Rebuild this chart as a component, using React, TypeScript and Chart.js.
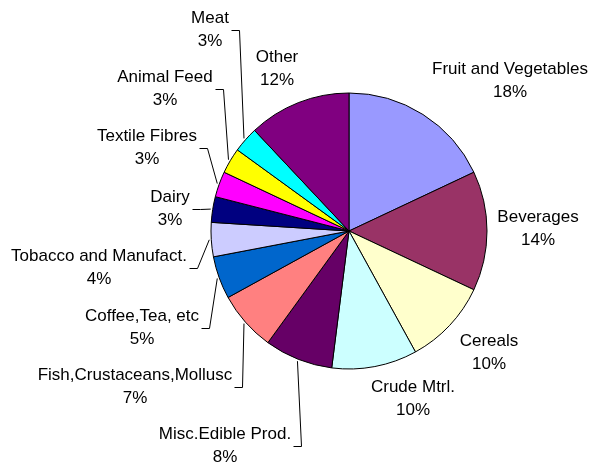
import React, { useEffect, useRef } from "react";
import { Chart, registerables } from "chart.js";

Chart.register(...registerables);

const categories = [
  "Fruit and Vegetables",
  "Beverages",
  "Cereals",
  "Crude Mtrl.",
  "Misc.Edible Prod.",
  "Fish,Crustaceans,Mollusc",
  "Coffee,Tea, etc",
  "Tobacco and Manufact.",
  "Dairy",
  "Textile Fibres",
  "Animal Feed",
  "Meat",
  "Other",
];
const shares = [18, 14, 10, 10, 8, 7, 5, 4, 3, 3, 3, 3, 12];
const percentLabels = ["18%", "14%", "10%", "10%", "8%", "7%", "5%", "4%", "3%", "3%", "3%", "3%", "12%"];

const sliceColors = [
  "#9999FF", "#993366", "#FFFFCC", "#CCFFFF", "#660066", "#FF8080", "#0066CC",
  "#CCCCFF", "#000080", "#FF00FF", "#FFFF00", "#00FFFF", "#800080",
];

// label block centres relative to pie centre, and whether a leader line is drawn
const labelLayout = [
  { dx: 161, dy: -150, leader: false },
  { dx: 189, dy: -2, leader: false },
  { dx: 140, dy: 122, leader: false },
  { dx: 64, dy: 168, leader: false },
  { dx: -124, dy: 215, leader: true },
  { dx: -214, dy: 156, leader: true },
  { dx: -207, dy: 97, leader: true },
  { dx: -250, dy: 37, leader: true },
  { dx: -179, dy: -22, leader: true },
  { dx: -202, dy: -83, leader: true },
  { dx: -184, dy: -142, leader: true },
  { dx: -139, dy: -201, leader: true },
  { dx: -72, dy: -162, leader: false },
];

const FONT = '17px "Liberation Sans", Arial, sans-serif';
const LINE_GAP = 23;

const labelPlugin = {
  id: "pieLabels",
  afterDatasetsDraw(chart: any) {
    const ctx = chart.ctx;
    const meta = chart.getDatasetMeta(0);
    ctx.save();
    ctx.font = FONT;
    ctx.fillStyle = "#000";
    ctx.strokeStyle = "#000";
    ctx.lineWidth = 1;
    ctx.textAlign = "center";
    ctx.textBaseline = "middle";
    meta.data.forEach((arc: any, i: number) => {
      const { x, y, startAngle, endAngle, outerRadius } = arc.getProps(
        ["x", "y", "startAngle", "endAngle", "outerRadius"],
        true
      );
      const mid = (startAngle + endAngle) / 2;
      const lay = labelLayout[i];
      const cx = x + lay.dx;
      const cy = y + lay.dy;
      const name = categories[i];
      const pct = percentLabels[i];
      ctx.fillText(name, cx, cy - LINE_GAP / 2);
      ctx.fillText(pct, cx, cy + LINE_GAP / 2);
      if (lay.leader) {
        const w = Math.max(ctx.measureText(name).width, ctx.measureText(pct).width);
        const sx = cx + w / 2 + 2;
        const ex = sx + 8;
        const ax = x + Math.cos(mid) * (outerRadius + 2);
        const ay = y + Math.sin(mid) * (outerRadius + 2);
        ctx.beginPath();
        ctx.moveTo(Math.round(sx) + 0.5, Math.round(cy) + 0.5);
        ctx.lineTo(Math.round(ex) + 0.5, Math.round(cy) + 0.5);
        ctx.lineTo(ax, ay);
        ctx.stroke();
      }
    });
    ctx.restore();
  },
};

export default function App() {
  const ref = useRef<HTMLCanvasElement | null>(null);
  useEffect(() => {
    if (!ref.current) return;
    const chart = new Chart(ref.current, {
      type: "pie",
      data: {
        labels: categories,
        datasets: [
          {
            data: shares,
            backgroundColor: sliceColors,
            borderColor: "#000",
            borderWidth: 1,
          },
        ],
      },
      options: {
        responsive: false,
        animation: false,
        radius: 138,
        layout: { padding: { left: 211, top: 93, right: 104, bottom: 94 } },
        plugins: {
          legend: { display: false },
          tooltip: { enabled: false },
        },
      } as any,
      plugins: [labelPlugin],
    });
    return () => chart.destroy();
  }, []);
  return (
    <div style={{ position: "absolute", left: 0, top: 0, width: 591, height: 463, background: "#fff" }}>
      <canvas ref={ref} width={591} height={463} />
    </div>
  );
}
